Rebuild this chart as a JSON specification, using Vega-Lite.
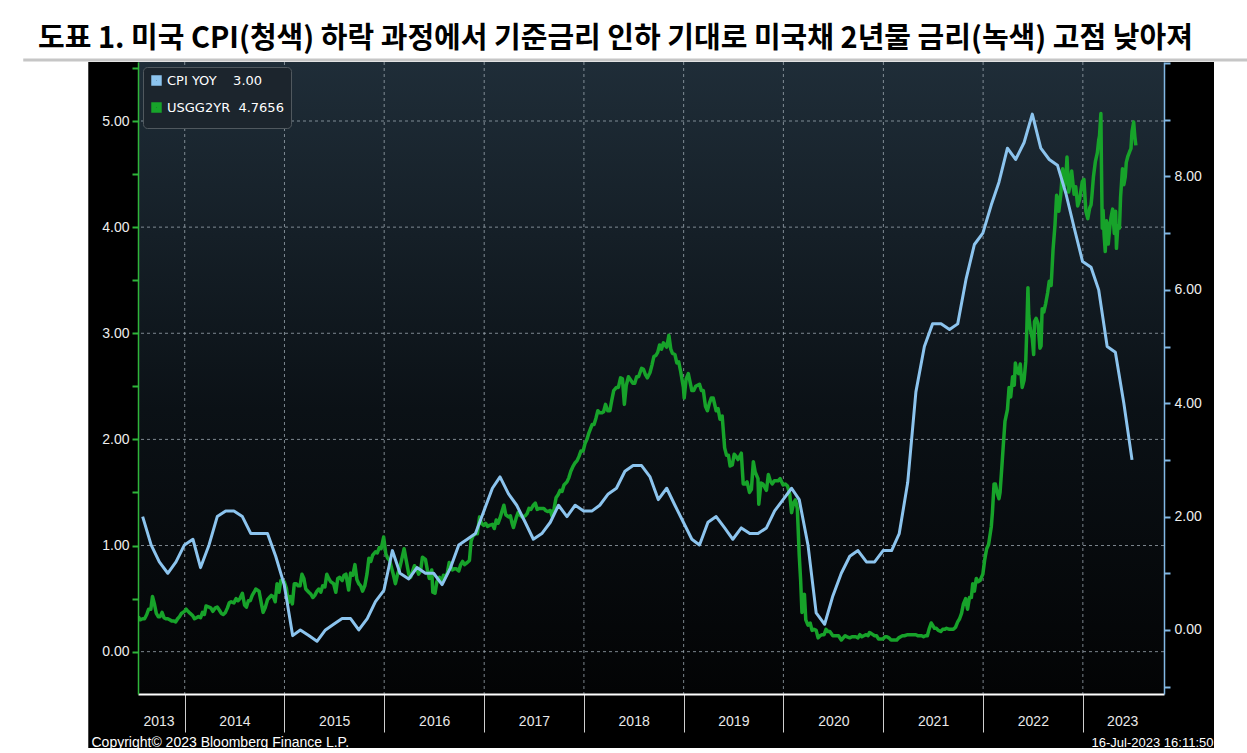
{
  "$schema": "https://vega.github.io/schema/vega-lite/v6.json",
  "width": 1026,
  "height": 632,
  "autosize": {"type": "none"},
  "padding": {"left": 138, "top": 62, "right": 83, "bottom": 59},
  "background": "#ffffff",
  "title": {
    "text": "도표 1. 미국 CPI(청색) 하락 과정에서 기준금리 인하 기대로 미국채 2년물 금리(녹색) 고점 낮아져",
    "anchor": "start",
    "frame": "group",
    "dx": -100,
    "dy": 33,
    "offset": 12,
    "baseline": "alphabetic",
    "font": "Noto Sans CJK KR",
    "fontSize": 29,
    "fontWeight": "bold",
    "color": "#000000"
  },
  "datasets": {
    "ygrid": [{"v": 0}, {"v": 1}, {"v": 2}, {"v": 3}, {"v": 4}, {"v": 5}],
    "xgrid": [{"d": "2014-01-01"}, {"d": "2015-01-01"}, {"d": "2016-01-01"}, {"d": "2017-01-01"}, {"d": "2018-01-01"}, {"d": "2019-01-01"}, {"d": "2020-01-01"}, {"d": "2021-01-01"}, {"d": "2022-01-01"}, {"d": "2023-01-01"}],
    "cpi": [
      {"d": "2013-07-31", "v": 2.0}, {"d": "2013-08-31", "v": 1.5}, {"d": "2013-09-30", "v": 1.2}, {"d": "2013-10-31", "v": 1.0}, {"d": "2013-11-30", "v": 1.2}, {"d": "2013-12-31", "v": 1.5},
      {"d": "2014-01-31", "v": 1.6}, {"d": "2014-02-28", "v": 1.1}, {"d": "2014-03-31", "v": 1.5}, {"d": "2014-04-30", "v": 2.0}, {"d": "2014-05-31", "v": 2.1}, {"d": "2014-06-30", "v": 2.1}, {"d": "2014-07-31", "v": 2.0}, {"d": "2014-08-31", "v": 1.7}, {"d": "2014-09-30", "v": 1.7}, {"d": "2014-10-31", "v": 1.7}, {"d": "2014-11-30", "v": 1.3}, {"d": "2014-12-31", "v": 0.8},
      {"d": "2015-01-31", "v": -0.1}, {"d": "2015-02-28", "v": 0.0}, {"d": "2015-03-31", "v": -0.1}, {"d": "2015-04-30", "v": -0.2}, {"d": "2015-05-31", "v": 0.0}, {"d": "2015-06-30", "v": 0.1}, {"d": "2015-07-31", "v": 0.2}, {"d": "2015-08-31", "v": 0.2}, {"d": "2015-09-30", "v": 0.0}, {"d": "2015-10-31", "v": 0.2}, {"d": "2015-11-30", "v": 0.5}, {"d": "2015-12-31", "v": 0.7},
      {"d": "2016-01-31", "v": 1.4}, {"d": "2016-02-28", "v": 1.0}, {"d": "2016-03-31", "v": 0.9}, {"d": "2016-04-30", "v": 1.1}, {"d": "2016-05-31", "v": 1.0}, {"d": "2016-06-30", "v": 1.0}, {"d": "2016-07-31", "v": 0.8}, {"d": "2016-08-31", "v": 1.1}, {"d": "2016-09-30", "v": 1.5}, {"d": "2016-10-31", "v": 1.6}, {"d": "2016-11-30", "v": 1.7}, {"d": "2016-12-31", "v": 2.1},
      {"d": "2017-01-31", "v": 2.5}, {"d": "2017-02-28", "v": 2.7}, {"d": "2017-03-31", "v": 2.4}, {"d": "2017-04-30", "v": 2.2}, {"d": "2017-05-31", "v": 1.9}, {"d": "2017-06-30", "v": 1.6}, {"d": "2017-07-31", "v": 1.7}, {"d": "2017-08-31", "v": 1.9}, {"d": "2017-09-30", "v": 2.2}, {"d": "2017-10-31", "v": 2.0}, {"d": "2017-11-30", "v": 2.2}, {"d": "2017-12-31", "v": 2.1},
      {"d": "2018-01-31", "v": 2.1}, {"d": "2018-02-28", "v": 2.2}, {"d": "2018-03-31", "v": 2.4}, {"d": "2018-04-30", "v": 2.5}, {"d": "2018-05-31", "v": 2.8}, {"d": "2018-06-30", "v": 2.9}, {"d": "2018-07-31", "v": 2.9}, {"d": "2018-08-31", "v": 2.7}, {"d": "2018-09-30", "v": 2.3}, {"d": "2018-10-31", "v": 2.5}, {"d": "2018-11-30", "v": 2.2}, {"d": "2018-12-31", "v": 1.9},
      {"d": "2019-01-31", "v": 1.6}, {"d": "2019-02-28", "v": 1.5}, {"d": "2019-03-31", "v": 1.9}, {"d": "2019-04-30", "v": 2.0}, {"d": "2019-05-31", "v": 1.8}, {"d": "2019-06-30", "v": 1.6}, {"d": "2019-07-31", "v": 1.8}, {"d": "2019-08-31", "v": 1.7}, {"d": "2019-09-30", "v": 1.7}, {"d": "2019-10-31", "v": 1.8}, {"d": "2019-11-30", "v": 2.1}, {"d": "2019-12-31", "v": 2.3},
      {"d": "2020-01-31", "v": 2.5}, {"d": "2020-02-28", "v": 2.3}, {"d": "2020-03-31", "v": 1.5}, {"d": "2020-04-30", "v": 0.3}, {"d": "2020-05-31", "v": 0.1}, {"d": "2020-06-30", "v": 0.6}, {"d": "2020-07-31", "v": 1.0}, {"d": "2020-08-31", "v": 1.3}, {"d": "2020-09-30", "v": 1.4}, {"d": "2020-10-31", "v": 1.2}, {"d": "2020-11-30", "v": 1.2}, {"d": "2020-12-31", "v": 1.4},
      {"d": "2021-01-31", "v": 1.4}, {"d": "2021-02-28", "v": 1.7}, {"d": "2021-03-31", "v": 2.6}, {"d": "2021-04-30", "v": 4.2}, {"d": "2021-05-31", "v": 5.0}, {"d": "2021-06-30", "v": 5.4}, {"d": "2021-07-31", "v": 5.4}, {"d": "2021-08-31", "v": 5.3}, {"d": "2021-09-30", "v": 5.4}, {"d": "2021-10-31", "v": 6.2}, {"d": "2021-11-30", "v": 6.8}, {"d": "2021-12-31", "v": 7.0},
      {"d": "2022-01-31", "v": 7.5}, {"d": "2022-02-28", "v": 7.9}, {"d": "2022-03-31", "v": 8.5}, {"d": "2022-04-30", "v": 8.3}, {"d": "2022-05-31", "v": 8.6}, {"d": "2022-06-30", "v": 9.1}, {"d": "2022-07-31", "v": 8.5}, {"d": "2022-08-31", "v": 8.3}, {"d": "2022-09-30", "v": 8.2}, {"d": "2022-10-31", "v": 7.7}, {"d": "2022-11-30", "v": 7.1}, {"d": "2022-12-31", "v": 6.5},
      {"d": "2023-01-31", "v": 6.4}, {"d": "2023-02-28", "v": 6.0}, {"d": "2023-03-31", "v": 5.0}, {"d": "2023-04-30", "v": 4.9}, {"d": "2023-05-31", "v": 4.0}, {"d": "2023-06-30", "v": 3.0}
    ],
    "yield": [
      {"d": "2013-07-15", "v": 0.33}, {"d": "2013-07-22", "v": 0.30}, {"d": "2013-07-31", "v": 0.31}, {"d": "2013-08-07", "v": 0.31}, {"d": "2013-08-15", "v": 0.35}, {"d": "2013-08-22", "v": 0.40}, {"d": "2013-08-30", "v": 0.40}, {"d": "2013-09-05", "v": 0.52}, {"d": "2013-09-12", "v": 0.45}, {"d": "2013-09-19", "v": 0.36}, {"d": "2013-09-26", "v": 0.33}, {"d": "2013-10-03", "v": 0.33}, {"d": "2013-10-10", "v": 0.37}, {"d": "2013-10-17", "v": 0.32}, {"d": "2013-10-24", "v": 0.31}, {"d": "2013-10-31", "v": 0.31}, {"d": "2013-11-07", "v": 0.30}, {"d": "2013-11-14", "v": 0.29}, {"d": "2013-11-21", "v": 0.29}, {"d": "2013-11-29", "v": 0.28}, {"d": "2013-12-06", "v": 0.31}, {"d": "2013-12-13", "v": 0.33}, {"d": "2013-12-20", "v": 0.36}, {"d": "2013-12-31", "v": 0.38},
      {"d": "2014-01-06", "v": 0.40}, {"d": "2014-01-13", "v": 0.38}, {"d": "2014-01-21", "v": 0.36}, {"d": "2014-01-30", "v": 0.34}, {"d": "2014-02-06", "v": 0.31}, {"d": "2014-02-13", "v": 0.32}, {"d": "2014-02-20", "v": 0.33}, {"d": "2014-02-28", "v": 0.32}, {"d": "2014-03-07", "v": 0.37}, {"d": "2014-03-14", "v": 0.35}, {"d": "2014-03-20", "v": 0.43}, {"d": "2014-03-31", "v": 0.42}, {"d": "2014-04-07", "v": 0.41}, {"d": "2014-04-14", "v": 0.38}, {"d": "2014-04-22", "v": 0.41}, {"d": "2014-04-30", "v": 0.42}, {"d": "2014-05-08", "v": 0.39}, {"d": "2014-05-15", "v": 0.36}, {"d": "2014-05-22", "v": 0.35}, {"d": "2014-05-30", "v": 0.37}, {"d": "2014-06-06", "v": 0.41}, {"d": "2014-06-13", "v": 0.46}, {"d": "2014-06-20", "v": 0.47}, {"d": "2014-06-30", "v": 0.46}, {"d": "2014-07-08", "v": 0.50}, {"d": "2014-07-15", "v": 0.48}, {"d": "2014-07-22", "v": 0.50}, {"d": "2014-07-31", "v": 0.55}, {"d": "2014-08-08", "v": 0.44}, {"d": "2014-08-15", "v": 0.42}, {"d": "2014-08-22", "v": 0.48}, {"d": "2014-08-29", "v": 0.48}, {"d": "2014-09-05", "v": 0.53}, {"d": "2014-09-12", "v": 0.56}, {"d": "2014-09-18", "v": 0.59}, {"d": "2014-09-30", "v": 0.57}, {"d": "2014-10-08", "v": 0.46}, {"d": "2014-10-15", "v": 0.37}, {"d": "2014-10-22", "v": 0.41}, {"d": "2014-10-31", "v": 0.49}, {"d": "2014-11-07", "v": 0.51}, {"d": "2014-11-14", "v": 0.53}, {"d": "2014-11-21", "v": 0.52}, {"d": "2014-11-28", "v": 0.47}, {"d": "2014-12-05", "v": 0.64}, {"d": "2014-12-12", "v": 0.56}, {"d": "2014-12-19", "v": 0.67}, {"d": "2014-12-31", "v": 0.66},
      {"d": "2015-01-08", "v": 0.60}, {"d": "2015-01-15", "v": 0.46}, {"d": "2015-01-22", "v": 0.52}, {"d": "2015-01-30", "v": 0.45}, {"d": "2015-02-06", "v": 0.64}, {"d": "2015-02-13", "v": 0.64}, {"d": "2015-02-20", "v": 0.62}, {"d": "2015-02-27", "v": 0.62}, {"d": "2015-03-06", "v": 0.73}, {"d": "2015-03-13", "v": 0.69}, {"d": "2015-03-20", "v": 0.59}, {"d": "2015-03-31", "v": 0.56}, {"d": "2015-04-08", "v": 0.54}, {"d": "2015-04-15", "v": 0.51}, {"d": "2015-04-22", "v": 0.53}, {"d": "2015-04-30", "v": 0.57}, {"d": "2015-05-07", "v": 0.59}, {"d": "2015-05-14", "v": 0.56}, {"d": "2015-05-21", "v": 0.62}, {"d": "2015-05-29", "v": 0.61}, {"d": "2015-06-05", "v": 0.73}, {"d": "2015-06-12", "v": 0.69}, {"d": "2015-06-19", "v": 0.66}, {"d": "2015-06-30", "v": 0.64}, {"d": "2015-07-08", "v": 0.56}, {"d": "2015-07-15", "v": 0.69}, {"d": "2015-07-22", "v": 0.70}, {"d": "2015-07-31", "v": 0.67}, {"d": "2015-08-07", "v": 0.72}, {"d": "2015-08-14", "v": 0.73}, {"d": "2015-08-24", "v": 0.58}, {"d": "2015-08-31", "v": 0.74}, {"d": "2015-09-08", "v": 0.72}, {"d": "2015-09-16", "v": 0.82}, {"d": "2015-09-23", "v": 0.68}, {"d": "2015-09-30", "v": 0.64}, {"d": "2015-10-07", "v": 0.62}, {"d": "2015-10-14", "v": 0.57}, {"d": "2015-10-22", "v": 0.62}, {"d": "2015-10-30", "v": 0.73}, {"d": "2015-11-06", "v": 0.88}, {"d": "2015-11-13", "v": 0.85}, {"d": "2015-11-20", "v": 0.91}, {"d": "2015-11-30", "v": 0.94}, {"d": "2015-12-07", "v": 0.93}, {"d": "2015-12-14", "v": 0.98}, {"d": "2015-12-21", "v": 0.97}, {"d": "2015-12-30", "v": 1.08},
      {"d": "2016-01-07", "v": 0.92}, {"d": "2016-01-14", "v": 0.88}, {"d": "2016-01-21", "v": 0.86}, {"d": "2016-01-29", "v": 0.78}, {"d": "2016-02-05", "v": 0.71}, {"d": "2016-02-11", "v": 0.64}, {"d": "2016-02-19", "v": 0.73}, {"d": "2016-02-26", "v": 0.78}, {"d": "2016-03-07", "v": 0.89}, {"d": "2016-03-14", "v": 0.97}, {"d": "2016-03-21", "v": 0.87}, {"d": "2016-03-31", "v": 0.73}, {"d": "2016-04-07", "v": 0.70}, {"d": "2016-04-14", "v": 0.76}, {"d": "2016-04-21", "v": 0.81}, {"d": "2016-04-29", "v": 0.78}, {"d": "2016-05-06", "v": 0.73}, {"d": "2016-05-13", "v": 0.76}, {"d": "2016-05-20", "v": 0.89}, {"d": "2016-05-31", "v": 0.87}, {"d": "2016-06-07", "v": 0.77}, {"d": "2016-06-14", "v": 0.69}, {"d": "2016-06-23", "v": 0.77}, {"d": "2016-06-27", "v": 0.56}, {"d": "2016-07-05", "v": 0.55}, {"d": "2016-07-12", "v": 0.66}, {"d": "2016-07-21", "v": 0.70}, {"d": "2016-07-29", "v": 0.66}, {"d": "2016-08-05", "v": 0.72}, {"d": "2016-08-12", "v": 0.71}, {"d": "2016-08-19", "v": 0.74}, {"d": "2016-08-26", "v": 0.84}, {"d": "2016-09-06", "v": 0.77}, {"d": "2016-09-13", "v": 0.78}, {"d": "2016-09-21", "v": 0.78}, {"d": "2016-09-30", "v": 0.76}, {"d": "2016-10-07", "v": 0.82}, {"d": "2016-10-14", "v": 0.85}, {"d": "2016-10-21", "v": 0.82}, {"d": "2016-10-31", "v": 0.84}, {"d": "2016-11-08", "v": 0.86}, {"d": "2016-11-14", "v": 1.04}, {"d": "2016-11-21", "v": 1.09}, {"d": "2016-11-30", "v": 1.11}, {"d": "2016-12-07", "v": 1.11}, {"d": "2016-12-15", "v": 1.27}, {"d": "2016-12-22", "v": 1.21}, {"d": "2016-12-30", "v": 1.19},
      {"d": "2017-01-06", "v": 1.21}, {"d": "2017-01-13", "v": 1.18}, {"d": "2017-01-20", "v": 1.19}, {"d": "2017-01-31", "v": 1.20}, {"d": "2017-02-07", "v": 1.16}, {"d": "2017-02-14", "v": 1.24}, {"d": "2017-02-21", "v": 1.21}, {"d": "2017-02-28", "v": 1.26}, {"d": "2017-03-07", "v": 1.32}, {"d": "2017-03-14", "v": 1.38}, {"d": "2017-03-21", "v": 1.29}, {"d": "2017-03-31", "v": 1.27}, {"d": "2017-04-07", "v": 1.28}, {"d": "2017-04-13", "v": 1.21}, {"d": "2017-04-18", "v": 1.17}, {"d": "2017-04-28", "v": 1.26}, {"d": "2017-05-05", "v": 1.31}, {"d": "2017-05-12", "v": 1.29}, {"d": "2017-05-19", "v": 1.27}, {"d": "2017-05-31", "v": 1.28}, {"d": "2017-06-07", "v": 1.30}, {"d": "2017-06-14", "v": 1.35}, {"d": "2017-06-21", "v": 1.34}, {"d": "2017-06-30", "v": 1.38}, {"d": "2017-07-07", "v": 1.40}, {"d": "2017-07-14", "v": 1.34}, {"d": "2017-07-21", "v": 1.35}, {"d": "2017-07-31", "v": 1.35}, {"d": "2017-08-07", "v": 1.35}, {"d": "2017-08-14", "v": 1.33}, {"d": "2017-08-21", "v": 1.32}, {"d": "2017-08-31", "v": 1.33}, {"d": "2017-09-07", "v": 1.27}, {"d": "2017-09-14", "v": 1.35}, {"d": "2017-09-21", "v": 1.45}, {"d": "2017-09-29", "v": 1.48}, {"d": "2017-10-06", "v": 1.52}, {"d": "2017-10-13", "v": 1.51}, {"d": "2017-10-20", "v": 1.57}, {"d": "2017-10-31", "v": 1.60}, {"d": "2017-11-07", "v": 1.64}, {"d": "2017-11-14", "v": 1.70}, {"d": "2017-11-21", "v": 1.74}, {"d": "2017-11-30", "v": 1.78}, {"d": "2017-12-07", "v": 1.80}, {"d": "2017-12-14", "v": 1.84}, {"d": "2017-12-21", "v": 1.89}, {"d": "2017-12-29", "v": 1.89},
      {"d": "2018-01-05", "v": 1.96}, {"d": "2018-01-12", "v": 2.00}, {"d": "2018-01-19", "v": 2.06}, {"d": "2018-01-31", "v": 2.14}, {"d": "2018-02-07", "v": 2.14}, {"d": "2018-02-14", "v": 2.20}, {"d": "2018-02-21", "v": 2.27}, {"d": "2018-02-28", "v": 2.25}, {"d": "2018-03-07", "v": 2.25}, {"d": "2018-03-14", "v": 2.26}, {"d": "2018-03-21", "v": 2.33}, {"d": "2018-03-29", "v": 2.27}, {"d": "2018-04-06", "v": 2.27}, {"d": "2018-04-13", "v": 2.37}, {"d": "2018-04-20", "v": 2.46}, {"d": "2018-04-30", "v": 2.49}, {"d": "2018-05-07", "v": 2.49}, {"d": "2018-05-15", "v": 2.58}, {"d": "2018-05-22", "v": 2.57}, {"d": "2018-05-29", "v": 2.33}, {"d": "2018-06-05", "v": 2.51}, {"d": "2018-06-13", "v": 2.59}, {"d": "2018-06-21", "v": 2.56}, {"d": "2018-06-29", "v": 2.53}, {"d": "2018-07-06", "v": 2.53}, {"d": "2018-07-13", "v": 2.59}, {"d": "2018-07-20", "v": 2.59}, {"d": "2018-07-31", "v": 2.67}, {"d": "2018-08-07", "v": 2.66}, {"d": "2018-08-14", "v": 2.61}, {"d": "2018-08-21", "v": 2.58}, {"d": "2018-08-31", "v": 2.63}, {"d": "2018-09-07", "v": 2.70}, {"d": "2018-09-14", "v": 2.78}, {"d": "2018-09-21", "v": 2.79}, {"d": "2018-09-28", "v": 2.82}, {"d": "2018-10-05", "v": 2.89}, {"d": "2018-10-12", "v": 2.85}, {"d": "2018-10-19", "v": 2.91}, {"d": "2018-10-31", "v": 2.87}, {"d": "2018-11-08", "v": 2.98}, {"d": "2018-11-15", "v": 2.85}, {"d": "2018-11-21", "v": 2.81}, {"d": "2018-11-30", "v": 2.80}, {"d": "2018-12-07", "v": 2.72}, {"d": "2018-12-14", "v": 2.73}, {"d": "2018-12-21", "v": 2.64}, {"d": "2018-12-31", "v": 2.49},
      {"d": "2019-01-03", "v": 2.39}, {"d": "2019-01-10", "v": 2.57}, {"d": "2019-01-18", "v": 2.62}, {"d": "2019-01-31", "v": 2.46}, {"d": "2019-02-07", "v": 2.46}, {"d": "2019-02-14", "v": 2.50}, {"d": "2019-02-21", "v": 2.51}, {"d": "2019-02-28", "v": 2.52}, {"d": "2019-03-07", "v": 2.46}, {"d": "2019-03-14", "v": 2.46}, {"d": "2019-03-22", "v": 2.31}, {"d": "2019-03-29", "v": 2.27}, {"d": "2019-04-05", "v": 2.34}, {"d": "2019-04-12", "v": 2.39}, {"d": "2019-04-19", "v": 2.39}, {"d": "2019-04-30", "v": 2.27}, {"d": "2019-05-07", "v": 2.29}, {"d": "2019-05-14", "v": 2.19}, {"d": "2019-05-22", "v": 2.22}, {"d": "2019-05-31", "v": 1.92}, {"d": "2019-06-07", "v": 1.85}, {"d": "2019-06-14", "v": 1.85}, {"d": "2019-06-20", "v": 1.75}, {"d": "2019-06-28", "v": 1.76}, {"d": "2019-07-05", "v": 1.86}, {"d": "2019-07-12", "v": 1.84}, {"d": "2019-07-19", "v": 1.81}, {"d": "2019-07-31", "v": 1.87}, {"d": "2019-08-07", "v": 1.58}, {"d": "2019-08-14", "v": 1.58}, {"d": "2019-08-21", "v": 1.60}, {"d": "2019-08-30", "v": 1.50}, {"d": "2019-09-06", "v": 1.53}, {"d": "2019-09-13", "v": 1.79}, {"d": "2019-09-20", "v": 1.69}, {"d": "2019-09-30", "v": 1.63}, {"d": "2019-10-03", "v": 1.39}, {"d": "2019-10-11", "v": 1.59}, {"d": "2019-10-18", "v": 1.58}, {"d": "2019-10-31", "v": 1.52}, {"d": "2019-11-07", "v": 1.67}, {"d": "2019-11-14", "v": 1.61}, {"d": "2019-11-21", "v": 1.58}, {"d": "2019-11-29", "v": 1.61}, {"d": "2019-12-06", "v": 1.61}, {"d": "2019-12-13", "v": 1.61}, {"d": "2019-12-20", "v": 1.63}, {"d": "2019-12-31", "v": 1.57},
      {"d": "2020-01-08", "v": 1.58}, {"d": "2020-01-16", "v": 1.56}, {"d": "2020-01-24", "v": 1.49}, {"d": "2020-01-31", "v": 1.31}, {"d": "2020-02-07", "v": 1.40}, {"d": "2020-02-14", "v": 1.43}, {"d": "2020-02-21", "v": 1.35}, {"d": "2020-02-28", "v": 0.91}, {"d": "2020-03-04", "v": 0.68}, {"d": "2020-03-09", "v": 0.37}, {"d": "2020-03-13", "v": 0.49}, {"d": "2020-03-18", "v": 0.54}, {"d": "2020-03-23", "v": 0.30}, {"d": "2020-03-31", "v": 0.25}, {"d": "2020-04-08", "v": 0.27}, {"d": "2020-04-15", "v": 0.20}, {"d": "2020-04-22", "v": 0.21}, {"d": "2020-04-30", "v": 0.20}, {"d": "2020-05-07", "v": 0.13}, {"d": "2020-05-14", "v": 0.15}, {"d": "2020-05-21", "v": 0.16}, {"d": "2020-05-29", "v": 0.16}, {"d": "2020-06-05", "v": 0.21}, {"d": "2020-06-12", "v": 0.19}, {"d": "2020-06-19", "v": 0.19}, {"d": "2020-06-30", "v": 0.15}, {"d": "2020-07-07", "v": 0.15}, {"d": "2020-07-14", "v": 0.15}, {"d": "2020-07-21", "v": 0.15}, {"d": "2020-07-31", "v": 0.11}, {"d": "2020-08-07", "v": 0.13}, {"d": "2020-08-14", "v": 0.15}, {"d": "2020-08-21", "v": 0.14}, {"d": "2020-08-31", "v": 0.13}, {"d": "2020-09-08", "v": 0.14}, {"d": "2020-09-15", "v": 0.14}, {"d": "2020-09-22", "v": 0.14}, {"d": "2020-09-30", "v": 0.13}, {"d": "2020-10-07", "v": 0.16}, {"d": "2020-10-14", "v": 0.14}, {"d": "2020-10-21", "v": 0.15}, {"d": "2020-10-30", "v": 0.16}, {"d": "2020-11-06", "v": 0.15}, {"d": "2020-11-11", "v": 0.18}, {"d": "2020-11-18", "v": 0.17}, {"d": "2020-11-30", "v": 0.15}, {"d": "2020-12-07", "v": 0.15}, {"d": "2020-12-14", "v": 0.12}, {"d": "2020-12-21", "v": 0.12}, {"d": "2020-12-31", "v": 0.12},
      {"d": "2021-01-07", "v": 0.14}, {"d": "2021-01-14", "v": 0.14}, {"d": "2021-01-21", "v": 0.13}, {"d": "2021-01-29", "v": 0.11}, {"d": "2021-02-05", "v": 0.11}, {"d": "2021-02-12", "v": 0.11}, {"d": "2021-02-19", "v": 0.11}, {"d": "2021-02-26", "v": 0.13}, {"d": "2021-03-05", "v": 0.14}, {"d": "2021-03-12", "v": 0.15}, {"d": "2021-03-19", "v": 0.15}, {"d": "2021-03-31", "v": 0.16}, {"d": "2021-04-07", "v": 0.16}, {"d": "2021-04-14", "v": 0.16}, {"d": "2021-04-21", "v": 0.16}, {"d": "2021-04-30", "v": 0.16}, {"d": "2021-05-07", "v": 0.15}, {"d": "2021-05-14", "v": 0.15}, {"d": "2021-05-21", "v": 0.15}, {"d": "2021-05-28", "v": 0.14}, {"d": "2021-06-04", "v": 0.15}, {"d": "2021-06-11", "v": 0.15}, {"d": "2021-06-17", "v": 0.21}, {"d": "2021-06-25", "v": 0.27}, {"d": "2021-06-30", "v": 0.25}, {"d": "2021-07-07", "v": 0.22}, {"d": "2021-07-14", "v": 0.22}, {"d": "2021-07-21", "v": 0.20}, {"d": "2021-07-30", "v": 0.19}, {"d": "2021-08-06", "v": 0.21}, {"d": "2021-08-13", "v": 0.21}, {"d": "2021-08-20", "v": 0.22}, {"d": "2021-08-31", "v": 0.21}, {"d": "2021-09-07", "v": 0.21}, {"d": "2021-09-14", "v": 0.21}, {"d": "2021-09-22", "v": 0.23}, {"d": "2021-09-30", "v": 0.28}, {"d": "2021-10-07", "v": 0.31}, {"d": "2021-10-14", "v": 0.36}, {"d": "2021-10-21", "v": 0.45}, {"d": "2021-10-29", "v": 0.50}, {"d": "2021-11-05", "v": 0.40}, {"d": "2021-11-12", "v": 0.51}, {"d": "2021-11-19", "v": 0.51}, {"d": "2021-11-24", "v": 0.64}, {"d": "2021-11-30", "v": 0.57}, {"d": "2021-12-07", "v": 0.69}, {"d": "2021-12-14", "v": 0.66}, {"d": "2021-12-21", "v": 0.67}, {"d": "2021-12-31", "v": 0.73},
      {"d": "2022-01-07", "v": 0.87}, {"d": "2022-01-14", "v": 0.97}, {"d": "2022-01-21", "v": 1.01}, {"d": "2022-01-31", "v": 1.18}, {"d": "2022-02-04", "v": 1.31}, {"d": "2022-02-10", "v": 1.58}, {"d": "2022-02-15", "v": 1.58}, {"d": "2022-02-22", "v": 1.49}, {"d": "2022-02-28", "v": 1.44}, {"d": "2022-03-04", "v": 1.50}, {"d": "2022-03-10", "v": 1.72}, {"d": "2022-03-16", "v": 1.95}, {"d": "2022-03-22", "v": 2.17}, {"d": "2022-03-31", "v": 2.28}, {"d": "2022-04-06", "v": 2.49}, {"d": "2022-04-12", "v": 2.40}, {"d": "2022-04-19", "v": 2.59}, {"d": "2022-04-25", "v": 2.51}, {"d": "2022-04-29", "v": 2.72}, {"d": "2022-05-04", "v": 2.65}, {"d": "2022-05-11", "v": 2.62}, {"d": "2022-05-17", "v": 2.71}, {"d": "2022-05-24", "v": 2.49}, {"d": "2022-05-31", "v": 2.56}, {"d": "2022-06-06", "v": 2.73}, {"d": "2022-06-10", "v": 3.05}, {"d": "2022-06-14", "v": 3.43}, {"d": "2022-06-17", "v": 3.17}, {"d": "2022-06-22", "v": 3.05}, {"d": "2022-06-30", "v": 2.95}, {"d": "2022-07-05", "v": 2.80}, {"d": "2022-07-08", "v": 3.11}, {"d": "2022-07-14", "v": 3.14}, {"d": "2022-07-21", "v": 3.09}, {"d": "2022-07-28", "v": 2.86}, {"d": "2022-08-01", "v": 2.88}, {"d": "2022-08-05", "v": 3.23}, {"d": "2022-08-11", "v": 3.20}, {"d": "2022-08-18", "v": 3.28}, {"d": "2022-08-25", "v": 3.38}, {"d": "2022-08-31", "v": 3.49}, {"d": "2022-09-07", "v": 3.45}, {"d": "2022-09-14", "v": 3.79}, {"d": "2022-09-21", "v": 4.02}, {"d": "2022-09-27", "v": 4.30}, {"d": "2022-09-30", "v": 4.28}, {"d": "2022-10-05", "v": 4.15}, {"d": "2022-10-12", "v": 4.30}, {"d": "2022-10-19", "v": 4.55}, {"d": "2022-10-21", "v": 4.48}, {"d": "2022-10-26", "v": 4.39}, {"d": "2022-10-31", "v": 4.48}, {"d": "2022-11-04", "v": 4.66}, {"d": "2022-11-10", "v": 4.33}, {"d": "2022-11-15", "v": 4.39}, {"d": "2022-11-21", "v": 4.53}, {"d": "2022-11-30", "v": 4.31}, {"d": "2022-12-06", "v": 4.38}, {"d": "2022-12-13", "v": 4.20}, {"d": "2022-12-20", "v": 4.26}, {"d": "2022-12-30", "v": 4.43},
      {"d": "2023-01-05", "v": 4.45}, {"d": "2023-01-12", "v": 4.15}, {"d": "2023-01-19", "v": 4.08}, {"d": "2023-01-26", "v": 4.18}, {"d": "2023-01-31", "v": 4.21}, {"d": "2023-02-03", "v": 4.29}, {"d": "2023-02-09", "v": 4.48}, {"d": "2023-02-16", "v": 4.62}, {"d": "2023-02-23", "v": 4.70}, {"d": "2023-02-28", "v": 4.82}, {"d": "2023-03-03", "v": 4.86}, {"d": "2023-03-08", "v": 5.07}, {"d": "2023-03-10", "v": 4.59}, {"d": "2023-03-13", "v": 3.99}, {"d": "2023-03-16", "v": 4.16}, {"d": "2023-03-20", "v": 3.92}, {"d": "2023-03-24", "v": 3.77}, {"d": "2023-03-28", "v": 4.06}, {"d": "2023-03-31", "v": 4.03}, {"d": "2023-04-04", "v": 3.84}, {"d": "2023-04-10", "v": 4.01}, {"d": "2023-04-14", "v": 4.09}, {"d": "2023-04-20", "v": 4.17}, {"d": "2023-04-26", "v": 3.94}, {"d": "2023-05-01", "v": 4.15}, {"d": "2023-05-04", "v": 3.80}, {"d": "2023-05-09", "v": 4.01}, {"d": "2023-05-15", "v": 3.99}, {"d": "2023-05-19", "v": 4.28}, {"d": "2023-05-26", "v": 4.55}, {"d": "2023-05-31", "v": 4.40}, {"d": "2023-06-05", "v": 4.47}, {"d": "2023-06-09", "v": 4.61}, {"d": "2023-06-15", "v": 4.67}, {"d": "2023-06-21", "v": 4.71}, {"d": "2023-06-26", "v": 4.74}, {"d": "2023-06-30", "v": 4.90}, {"d": "2023-07-06", "v": 4.99}, {"d": "2023-07-10", "v": 4.86}, {"d": "2023-07-14", "v": 4.77}
    ]
  },
  "layer": [
    {
      "data": {"values": [{}]},
      "mark": {"type": "rect", "color": "#000000", "clip": false},
      "encoding": {
        "x": {"datum": {"year": 2013, "month": 1, "date": 13}, "type": "temporal", "scale": {"domain": [{"year": 2013, "month": 7, "date": 14}, {"year": 2023, "month": 10, "date": 25}]}, "axis": null},
        "x2": {"datum": {"year": 2024, "month": 4, "date": 25}},
        "y": {"datum": -0.907, "type": "quantitative", "scale": {"domain": [-0.399, 5.556], "nice": false, "zero": false}, "axis": null},
        "y2": {"datum": 5.556}
      }
    },
    {
      "data": {"values": [{}]},
      "mark": {"type": "rect", "clip": false, "color": {"gradient": "linear", "x1": 0, "y1": 0, "x2": 0, "y2": 1, "stops": [{"offset": 0, "color": "#1f2d38"}, {"offset": 0.55, "color": "#0b1116"}, {"offset": 1, "color": "#030405"}]}},
      "encoding": {
        "x": {"datum": {"year": 2013, "month": 7, "date": 14}, "type": "temporal", "scale": {"domain": [{"year": 2013, "month": 7, "date": 14}, {"year": 2023, "month": 10, "date": 25}]}, "axis": null},
        "x2": {"datum": {"year": 2023, "month": 10, "date": 25}},
        "y": {"datum": -0.399, "type": "quantitative", "scale": {"domain": [-0.399, 5.556], "nice": false, "zero": false}, "axis": null},
        "y2": {"datum": 5.556}
      }
    },
    {
      "data": {"values": [{}]},
      "mark": {"type": "rule", "color": "#c6c6c6", "strokeWidth": 3, "clip": false},
      "encoding": {
        "x": {"datum": {"year": 2012, "month": 5, "date": 20}, "type": "temporal", "scale": {"domain": [{"year": 2013, "month": 7, "date": 14}, {"year": 2023, "month": 10, "date": 25}]}, "axis": null},
        "x2": {"datum": {"year": 2024, "month": 8, "date": 24}},
        "y": {"datum": 5.575, "type": "quantitative", "scale": {"domain": [-0.399, 5.556], "nice": false, "zero": false}, "axis": null}
      }
    },
    {
      "data": {"name": "ygrid"},
      "mark": {"type": "rule", "color": "#9aa5ae", "strokeWidth": 1, "strokeDash": [3, 3], "opacity": 0.8},
      "encoding": {
        "y": {"field": "v", "type": "quantitative", "scale": {"domain": [-0.399, 5.556], "nice": false, "zero": false}, "axis": null}
      }
    },
    {
      "data": {"name": "xgrid"},
      "mark": {"type": "rule", "color": "#9aa5ae", "strokeWidth": 1, "strokeDash": [3, 3], "opacity": 0.8},
      "encoding": {
        "x": {
          "field": "d", "type": "temporal",
          "scale": {"domain": [{"year": 2013, "month": 7, "date": 14}, {"year": 2023, "month": 10, "date": 25}]},
          "axis": {
            "orient": "bottom",
            "values": [{"year": 2014, "month": 1, "date": 1}, {"year": 2015, "month": 1, "date": 1}, {"year": 2016, "month": 1, "date": 1}, {"year": 2017, "month": 1, "date": 1}, {"year": 2018, "month": 1, "date": 1}, {"year": 2019, "month": 1, "date": 1}, {"year": 2020, "month": 1, "date": 1}, {"year": 2021, "month": 1, "date": 1}, {"year": 2022, "month": 1, "date": 1}, {"year": 2023, "month": 1, "date": 1}],
            "labels": false,
            "ticks": true,
            "tickSize": 38,
            "tickColor": "#cfcfcf",
            "tickWidth": 1,
            "domain": true,
            "domainColor": "#ffffff",
            "domainWidth": 2,
            "grid": false,
            "zindex": 1,
            "title": "Copyright© 2023 Bloomberg Finance L.P.",
            "titleAnchor": "start",
            "titleAlign": "left",
            "titleBaseline": "alphabetic",
            "titleX": -47,
            "titleY": 52,
            "titleColor": "#ffffff",
            "titleFont": "Liberation Sans",
            "titleFontSize": 14,
            "titleFontWeight": "normal"
          }
        }
      }
    },
    {
      "data": {"name": "yield"},
      "mark": {"type": "line", "strokeWidth": 3.5, "strokeJoin": "round", "clip": true},
      "encoding": {
        "x": {"field": "d", "type": "temporal", "scale": {"domain": [{"year": 2013, "month": 7, "date": 14}, {"year": 2023, "month": 10, "date": 25}]}, "axis": null},
        "y": {
          "field": "v", "type": "quantitative",
          "scale": {"domain": [-0.399, 5.556], "nice": false, "zero": false},
          "axis": {
            "orient": "left",
            "values": [0, 0.5, 1, 1.5, 2, 2.5, 3, 3.5, 4, 4.5, 5, 5.5],
            "labelExpr": "datum.value % 1 == 0 ? format(datum.value, '.2f') : ''",
            "tickSize": 6,
            "tickWidth": 2,
            "tickColor": "#2fb53a",
            "domainColor": "#2fb53a",
            "domainWidth": 1.5,
            "labelColor": "#eeeeee",
            "labelFont": "Liberation Sans",
            "labelFontSize": 14,
            "labelPadding": 3,
            "labelFlush": false,
            "labelOverlap": false,
            "grid": false,
            "title": null,
            "zindex": 1
          }
        },
        "color": {
          "datum": "USGG2YR", "type": "nominal",
          "scale": {"domain": ["CPI YOY", "USGG2YR"], "range": ["#8cc4ee", "#17a32a"]},
          "legend": {
            "title": null,
            "orient": "top-left",
            "offset": 5,
            "padding": 7,
            "fillColor": "#1c252d",
            "strokeColor": "#50585e",
            "cornerRadius": 4,
            "symbolType": "square",
            "symbolSize": 30,
            "symbolStrokeWidth": 5,
            "labelColor": "#ffffff",
            "labelFont": "DejaVu Sans",
            "labelFontSize": 13,
            "rowPadding": 0,
            "labelExpr": "datum.label == 'CPI YOY' ? 'CPI YOY\u00a0\u00a0\u00a0\u00a03.00' : 'USGG2YR\u00a0\u00a04.7656'"
          }
        }
      }
    },
    {
      "data": {"name": "cpi"},
      "mark": {"type": "line", "strokeWidth": 3, "strokeJoin": "round", "clip": true},
      "encoding": {
        "x": {
          "field": "d", "type": "temporal",
          "scale": {"domain": [{"year": 2013, "month": 7, "date": 14}, {"year": 2023, "month": 10, "date": 25}]},
          "axis": {
            "orient": "bottom",
            "values": [{"year": 2013, "month": 9, "date": 27}, {"year": 2014, "month": 7, "date": 2}, {"year": 2015, "month": 7, "date": 2}, {"year": 2016, "month": 7, "date": 2}, {"year": 2017, "month": 7, "date": 2}, {"year": 2018, "month": 7, "date": 2}, {"year": 2019, "month": 7, "date": 2}, {"year": 2020, "month": 7, "date": 2}, {"year": 2021, "month": 7, "date": 2}, {"year": 2022, "month": 7, "date": 2}, {"year": 2023, "month": 5, "date": 25}],
            "format": "%Y",
            "formatType": "time",
            "ticks": false,
            "tickSize": 0,
            "domain": false,
            "grid": false,
            "labelPadding": 20,
            "labelColor": "#e8e8e8",
            "labelFont": "Liberation Sans",
            "labelFontSize": 14,
            "labelFlush": false,
            "labelOverlap": false,
            "zindex": 1,
            "title": "16-Jul-2023 16:11:50",
            "titleAlign": "right",
            "titleAnchor": "start",
            "titleBaseline": "alphabetic",
            "titleX": 1075,
            "titleY": 52,
            "titleColor": "#ffffff",
            "titleFont": "Liberation Sans",
            "titleFontSize": 13,
            "titleFontWeight": "normal"
          }
        },
        "y": {
          "field": "v", "type": "quantitative",
          "scale": {"domain": [-1.13, 10.02], "nice": false, "zero": false},
          "axis": {
            "orient": "right",
            "values": [-1, 0, 1, 2, 3, 4, 5, 6, 7, 8, 9, 10],
            "labelExpr": "datum.value % 2 == 0 && datum.value < 10 ? format(datum.value, '.2f') : ''",
            "tickSize": 6,
            "tickWidth": 2,
            "tickColor": "#82b8e4",
            "domainColor": "#82b8e4",
            "domainWidth": 1.5,
            "labelColor": "#eeeeee",
            "labelFont": "Liberation Sans",
            "labelFontSize": 14,
            "labelPadding": 4,
            "labelFlush": false,
            "labelOverlap": false,
            "grid": false,
            "title": null,
            "zindex": 1
          }
        },
        "color": {
          "datum": "CPI YOY", "type": "nominal",
          "scale": {"domain": ["CPI YOY", "USGG2YR"], "range": ["#8cc4ee", "#17a32a"]}
        }
      }
    }
  ],
  "resolve": {
    "scale": {"y": "independent"},
    "axis": {"y": "independent", "x": "independent"}
  },
  "config": {
    "view": {"stroke": null},
    "axis": {"domainCap": "butt"}
  }
}
